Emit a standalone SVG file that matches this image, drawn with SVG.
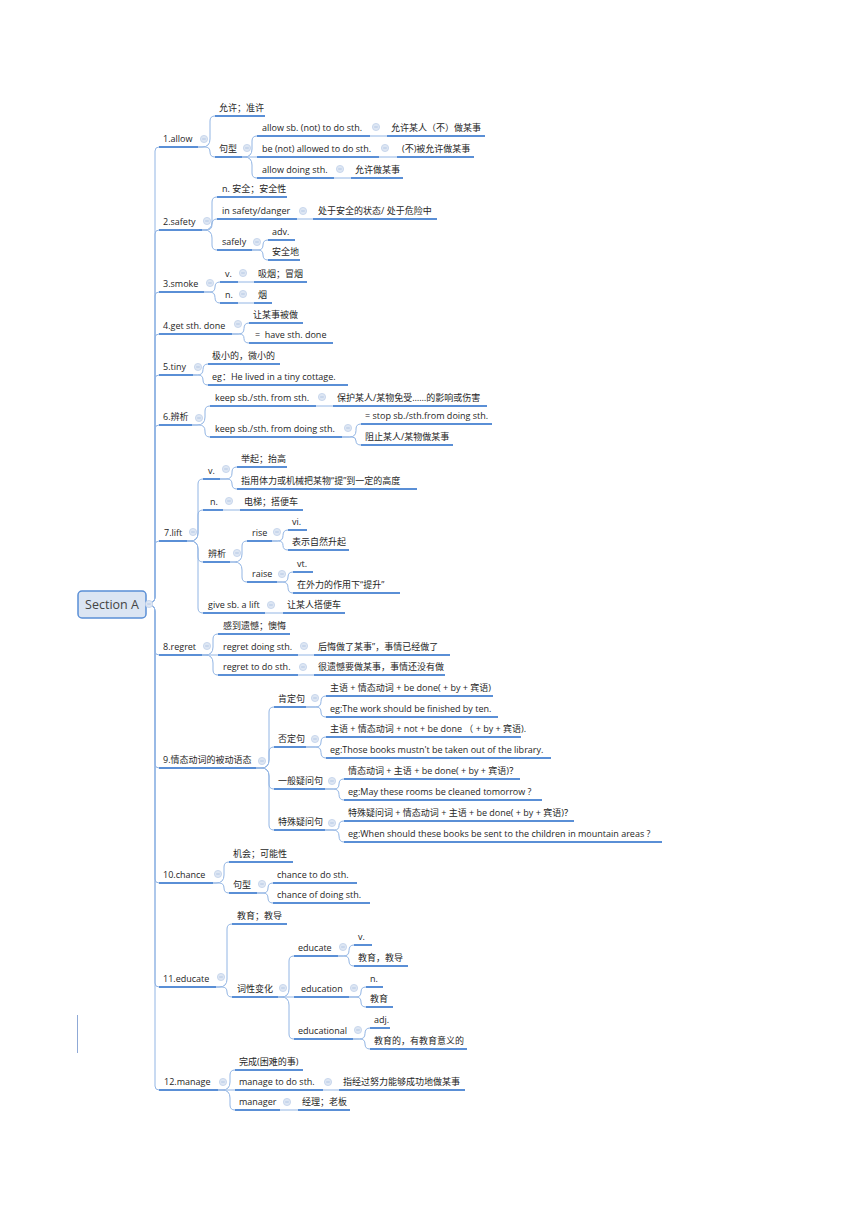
<svg xmlns="http://www.w3.org/2000/svg" xmlns:xlink="http://www.w3.org/1999/xlink" width="860" height="1216" viewBox="0 0 860 1216">
<style>
.t{font-family:"Open Sans","Noto Sans CJK SC",sans-serif;font-size:9px;fill:#262626}
.u{stroke:#5a8fd6;stroke-width:2;fill:none}
.c path{stroke:#92b5e4;stroke-width:1;fill:none}
</style>
<defs>
<g id="btn"><circle r="3.6" fill="#dde6f3" stroke="#c2d2ea" stroke-width="0.8"/><path d="M-1.8,0H1.8" stroke="#a9bfe0" stroke-width="0.8"/></g>
</defs>
<rect width="860" height="1216" fill="#ffffff"/>
<line x1="77.5" y1="1015" x2="77.5" y2="1053" stroke="#8fa9d6" stroke-width="1"/>

<g id="connectors" class="c">
<path d="M146,604 H147 Q155,604 155,596 V151 Q155,147 159,147"/>
<path d="M146,604 H147 Q155,604 155,596 V234 Q155,230 159,230"/>
<path d="M146,604 H147 Q155,604 155,596 V296 Q155,292 159,292"/>
<path d="M146,604 H147 Q155,604 155,596 V338 Q155,334 159,334"/>
<path d="M146,604 H147 Q155,604 155,596 V379 Q155,375 159,375"/>
<path d="M146,604 H147 Q155,604 155,596 V429 Q155,425 159,425"/>
<path d="M146,604 H147 Q155,604 155,596 V545 Q155,541 159,541"/>
<path d="M146,604 H147 Q155,604 155,612 V651 Q155,655 159,655"/>
<path d="M146,604 H147 Q155,604 155,612 V764 Q155,768 159,768"/>
<path d="M146,604 H147 Q155,604 155,612 V879 Q155,883 159,883"/>
<path d="M146,604 H147 Q155,604 155,612 V983 Q155,987 159,987"/>
<path d="M146,604 H147 Q155,604 155,612 V1086 Q155,1090 159,1090"/>

<path d="M198,147 H202 Q210,147 210,139 V121 Q210,116 215,116"/>
<path d="M198,147 H205 Q210,147 210,152 Q210,157 215,157"/>
<path d="M242,157 H244 Q252,157 252,149 V141 Q252,136 257,136"/>
<path d="M242,157 H257"/>
<path d="M242,157 H244 Q252,157 252,165 V173 Q252,178 257,178"/>
<path d="M370,136 H387"/>
<path d="M379,157 H397"/>
<path d="M334,178 H351"/>

<path d="M202,230 H204 Q212,230 212,222 V202 Q212,197 217,197"/>
<path d="M202,230 H206.5 Q212,230 212,224.5 Q212,219 217,219"/>
<path d="M202,230 H204 Q212,230 212,238 V245 Q212,250 217,250"/>
<path d="M297,219 H313"/>
<path d="M252,250 H258 Q263,250 263,245 Q263,240 268,240"/>
<path d="M252,250 H258 Q263,250 263,255 Q263,260 268,260"/>

<path d="M204,292 H210 Q215,292 215,287 Q215,282 220,282"/>
<path d="M204,292 H209.5 Q215,292 215,297.5 Q215,303 220,303"/>
<path d="M238,282 H254"/>
<path d="M238,303 H254"/>

<path d="M232,334 H238.5 Q244,334 244,328.5 Q244,323 249,323"/>
<path d="M232,334 H239.5 Q244,334 244,338.5 Q244,343 249,343"/>

<path d="M193,375 H197.5 Q203,375 203,369.5 Q203,364 208,364"/>
<path d="M193,375 H198 Q203,375 203,380 Q203,385 208,385"/>

<path d="M192,425 H197 Q205,425 205,417 V411 Q205,406 210,406"/>
<path d="M192,425 H199 Q205,425 205,431 V432 Q205,437 210,437"/>
<path d="M316,406 H333"/>
<path d="M342,437 H349.5 Q356,437 356,430.5 V429 Q356,424 361,424"/>
<path d="M342,437 H352 Q356,437 356,441 Q356,445 361,445"/>

<path d="M187,541 H190 Q198,541 198,533 V484 Q198,479 203,479"/>
<path d="M187,541 H190 Q198,541 198,533 V515 Q198,510 203,510"/>
<path d="M187,541 H190 Q198,541 198,549 V557 Q198,562 203,562"/>
<path d="M187,541 H190 Q198,541 198,549 V608 Q198,613 203,613"/>
<path d="M220,479 H226 Q232,479 232,473 V472 Q232,467 237,467"/>
<path d="M220,479 H227 Q232,479 232,484 Q232,489 237,489"/>
<path d="M223,510 H240"/>
<path d="M230,562 H234 Q242,562 242,554 V546 Q242,541 247,541"/>
<path d="M230,562 H234 Q242,562 242,570 V577 Q242,582 247,582"/>
<path d="M272,541 H277.5 Q283,541 283,535.5 Q283,530 288,530"/>
<path d="M272,541 H278.5 Q283,541 283,545.5 Q283,550 288,550"/>
<path d="M277,582 H283 Q288,582 288,577 Q288,572 293,572"/>
<path d="M277,582 H282.5 Q288,582 288,587.5 Q288,593 293,593"/>
<path d="M265,613 H283"/>

<path d="M202,655 H205 Q213,655 213,647 V639 Q213,634 218,634"/>
<path d="M202,655 H218"/>
<path d="M202,655 H205 Q213,655 213,663 V670 Q213,675 218,675"/>
<path d="M298,655 H314"/>
<path d="M298,675 H314"/>

<path d="M256,768 H261 Q269,768 269,760 V712 Q269,707 274,707"/>
<path d="M256,768 H261 Q269,768 269,760 V752 Q269,747 274,747"/>
<path d="M256,768 H261 Q269,768 269,776 V784 Q269,789 274,789"/>
<path d="M256,768 H261 Q269,768 269,776 V825 Q269,830 274,830"/>
<path d="M306,707 H315.5 Q321,707 321,701.5 Q321,696 326,696"/>
<path d="M306,707 H316 Q321,707 321,712 Q321,717 326,717"/>
<path d="M306,747 H316 Q321,747 321,742 Q321,737 326,737"/>
<path d="M306,747 H315.5 Q321,747 321,752.5 Q321,758 326,758"/>
<path d="M325,789 H334 Q339,789 339,784 Q339,779 344,779"/>
<path d="M325,789 H333.5 Q339,789 339,794.5 Q339,800 344,800"/>
<path d="M325,830 H334.5 Q339,830 339,825.5 Q339,821 344,821"/>
<path d="M325,830 H333 Q339,830 339,836 Q339,842 344,842"/>

<path d="M213,883 H216 Q224,883 224,875 V867 Q224,862 229,862"/>
<path d="M213,883 H219 Q224,883 224,888 Q224,893 229,893"/>
<path d="M257,893 H263 Q268,893 268,888 Q268,883 273,883"/>
<path d="M257,893 H263 Q268,893 268,898 Q268,903 273,903"/>

<path d="M216,987 H219 Q227,987 227,979 V929 Q227,924 232,924"/>
<path d="M216,987 H222 Q227,987 227,992 Q227,997 232,997"/>
<path d="M278,997 H281 Q289,997 289,989 V961 Q289,956 294,956"/>
<path d="M278,997 H294"/>
<path d="M278,997 H281 Q289,997 289,1005 V1034 Q289,1039 294,1039"/>
<path d="M338,956 H343.5 Q349,956 349,950.5 Q349,945 354,945"/>
<path d="M338,956 H344 Q349,956 349,961 Q349,966 354,966"/>
<path d="M349,997 H356 Q361,997 361,992 Q361,987 366,987"/>
<path d="M349,997 H356 Q361,997 361,1002 Q361,1007 366,1007"/>
<path d="M353,1039 H359.5 Q365,1039 365,1033.5 Q365,1028 370,1028"/>
<path d="M353,1039 H360 Q365,1039 365,1044 Q365,1049 370,1049"/>

<path d="M218,1090 H222 Q230,1090 230,1082 V1075 Q230,1070 235,1070"/>
<path d="M218,1090 H235"/>
<path d="M218,1090 H222 Q230,1090 230,1098 V1105 Q230,1110 235,1110"/>
<path d="M323,1090 H339"/>
<path d="M280,1110 H298"/>
</g>

<g id="root">
<rect x="78" y="591" width="68" height="27" rx="4" fill="#dbe5f3" stroke="#5a8fd6" stroke-width="1.5"/>
<text x="112" y="608.5" text-anchor="middle" style="font-family:'Open Sans','Noto Sans CJK SC',sans-serif;font-size:12.5px;fill:#444">Section A</text>
<use xlink:href="#btn" x="149" y="604"/>
</g>

<g id="n1"><path class="u" d="M159,147H198"/><text class="t" x="163" y="142">1.allow</text><use xlink:href="#btn" x="204" y="139"/></g>
<g id="n1a"><path class="u" d="M215,116H265"/><text class="t" x="219" y="111">允许；准许</text></g>
<g id="n1b"><path class="u" d="M215,157H242"/><text class="t" x="219" y="152">句型</text><use xlink:href="#btn" x="247" y="148"/></g>
<g id="n1b1"><path class="u" d="M257,136H370"/><text class="t" x="262" y="131">allow sb. (not) to do sth.</text><use xlink:href="#btn" x="376" y="127"/></g>
<g id="n1b1a"><path class="u" d="M387,136H485"/><text class="t" x="391" y="131">允许某人（不）做某事</text></g>
<g id="n1b2"><path class="u" d="M257,157H379"/><text class="t" x="262" y="152">be (not) allowed to do sth.</text><use xlink:href="#btn" x="385" y="148"/></g>
<g id="n1b2a"><path class="u" d="M397,157H474"/><text class="t" x="402" y="152">(不)被允许做某事</text></g>
<g id="n1b3"><path class="u" d="M257,178H334"/><text class="t" x="262" y="173">allow doing sth.</text><use xlink:href="#btn" x="340" y="169"/></g>
<g id="n1b3a"><path class="u" d="M351,178H403"/><text class="t" x="355" y="173">允许做某事</text></g>

<g id="n2"><path class="u" d="M159,230H202"/><text class="t" x="163" y="225">2.safety</text><use xlink:href="#btn" x="207" y="221"/></g>
<g id="n2a"><path class="u" d="M217,197H287"/><text class="t" x="222" y="192">n. 安全；安全性</text></g>
<g id="n2b"><path class="u" d="M217,219H297"/><text class="t" x="222" y="214">in safety/danger</text><use xlink:href="#btn" x="303" y="211"/></g>
<g id="n2b1"><path class="u" d="M313,219H437"/><text class="t" x="318" y="214">处于安全的状态/ 处于危险中</text></g>
<g id="n2c"><path class="u" d="M217,250H252"/><text class="t" x="222" y="245">safely</text><use xlink:href="#btn" x="257" y="242"/></g>
<g id="n2c1"><path class="u" d="M268,240H295"/><text class="t" x="272" y="235">adv.</text></g>
<g id="n2c2"><path class="u" d="M268,260H300"/><text class="t" x="272" y="255">安全地</text></g>

<g id="n3"><path class="u" d="M159,292H204"/><text class="t" x="163" y="287">3.smoke</text><use xlink:href="#btn" x="210" y="283"/></g>
<g id="n3a"><path class="u" d="M220,282H238"/><text class="t" x="225" y="277">v.</text><use xlink:href="#btn" x="243" y="273"/></g>
<g id="n3a1"><path class="u" d="M254,282H307"/><text class="t" x="258" y="277">吸烟；冒烟</text></g>
<g id="n3b"><path class="u" d="M220,303H238"/><text class="t" x="225" y="298">n.</text><use xlink:href="#btn" x="243" y="294"/></g>
<g id="n3b1"><path class="u" d="M254,303H272"/><text class="t" x="258" y="298">烟</text></g>

<g id="n4"><path class="u" d="M159,334H232"/><text class="t" x="163" y="329">4.get sth. done</text><use xlink:href="#btn" x="238" y="324"/></g>
<g id="n4a"><path class="u" d="M249,323H303"/><text class="t" x="253" y="318">让某事被做</text></g>
<g id="n4b"><path class="u" d="M249,343H333"/><text class="t" x="255" y="338" xml:space="preserve">=  have sth. done</text></g>

<g id="n5"><path class="u" d="M159,375H193"/><text class="t" x="163" y="370">5.tiny</text><use xlink:href="#btn" x="198" y="367"/></g>
<g id="n5a"><path class="u" d="M208,364H280"/><text class="t" x="212" y="359">极小的，微小的</text></g>
<g id="n5b"><path class="u" d="M208,385H348"/><text class="t" x="212" y="380">eg：He lived in a tiny cottage.</text></g>

<g id="n6"><path class="u" d="M159,425H192"/><text class="t" x="163" y="420">6.辨析</text><use xlink:href="#btn" x="199" y="418"/></g>
<g id="n6a"><path class="u" d="M210,406H316"/><text class="t" x="215" y="401">keep sb./sth. from sth.</text><use xlink:href="#btn" x="322" y="397"/></g>
<g id="n6a1"><path class="u" d="M333,406H487"/><text class="t" x="337" y="401">保护某人/某物免受……的影响或伤害</text></g>
<g id="n6b"><path class="u" d="M210,437H342"/><text class="t" x="215" y="432">keep sb./sth. from doing sth.</text><use xlink:href="#btn" x="348" y="428"/></g>
<g id="n6b1"><path class="u" d="M361,424H492"/><text class="t" x="365" y="419">= stop sb./sth.from doing sth.</text></g>
<g id="n6b2"><path class="u" d="M361,445H453"/><text class="t" x="365" y="440">阻止某人/某物做某事</text></g>

<g id="n7"><path class="u" d="M159,541H187"/><text class="t" x="164" y="536">7.lift</text><use xlink:href="#btn" x="193" y="532"/></g>
<g id="n7a"><path class="u" d="M203,479H220"/><text class="t" x="208" y="474">v.</text><use xlink:href="#btn" x="226" y="469"/></g>
<g id="n7a1"><path class="u" d="M237,467H287"/><text class="t" x="241" y="462">举起；抬高</text></g>
<g id="n7a2"><path class="u" d="M237,489H417"/><text class="t" x="241" y="484">指用体力或机械把某物“提”到一定的高度</text></g>
<g id="n7b"><path class="u" d="M203,510H223"/><text class="t" x="210" y="505">n.</text><use xlink:href="#btn" x="229" y="501"/></g>
<g id="n7b1"><path class="u" d="M240,510H303"/><text class="t" x="244" y="505">电梯；搭便车</text></g>
<g id="n7c"><path class="u" d="M203,562H230"/><text class="t" x="208" y="557">辨析</text><use xlink:href="#btn" x="237" y="553"/></g>
<g id="n7c1"><path class="u" d="M247,541H272"/><text class="t" x="252" y="536">rise</text><use xlink:href="#btn" x="277" y="532"/></g>
<g id="n7c1a"><path class="u" d="M288,530H307"/><text class="t" x="292" y="525">vi.</text></g>
<g id="n7c1b"><path class="u" d="M288,550H349"/><text class="t" x="292" y="545">表示自然升起</text></g>
<g id="n7c2"><path class="u" d="M247,582H277"/><text class="t" x="252" y="577">raise</text><use xlink:href="#btn" x="282" y="574"/></g>
<g id="n7c2a"><path class="u" d="M293,572H313"/><text class="t" x="297" y="567">vt.</text></g>
<g id="n7c2b"><path class="u" d="M293,593H400"/><text class="t" x="297" y="588">在外力的作用下“提升”</text></g>
<g id="n7d"><path class="u" d="M203,613H265"/><text class="t" x="208" y="608">give sb. a lift</text><use xlink:href="#btn" x="271" y="605"/></g>
<g id="n7d1"><path class="u" d="M283,613H345"/><text class="t" x="287" y="608">让某人搭便车</text></g>

<g id="n8"><path class="u" d="M159,655H202"/><text class="t" x="163" y="650">8.regret</text><use xlink:href="#btn" x="207" y="646"/></g>
<g id="n8a"><path class="u" d="M218,634H290"/><text class="t" x="223" y="629">感到遗憾；懊悔</text></g>
<g id="n8b"><path class="u" d="M218,655H298"/><text class="t" x="223" y="650">regret doing sth.</text><use xlink:href="#btn" x="304" y="646"/></g>
<g id="n8b1"><path class="u" d="M314,655H450"/><text class="t" x="318" y="650">后悔做了某事”，事情已经做了</text></g>
<g id="n8c"><path class="u" d="M218,675H298"/><text class="t" x="223" y="670">regret to do sth.</text><use xlink:href="#btn" x="303" y="667"/></g>
<g id="n8c1"><path class="u" d="M314,675H445"/><text class="t" x="318" y="670">很遗憾要做某事，事情还没有做</text></g>

<g id="n9"><path class="u" d="M159,768H256"/><text class="t" x="163" y="763">9.情态动词的被动语态</text><use xlink:href="#btn" x="262" y="761"/></g>
<g id="n9a"><path class="u" d="M274,707H306"/><text class="t" x="278" y="702">肯定句</text><use xlink:href="#btn" x="315" y="698"/></g>
<g id="n9a1"><path class="u" d="M326,696H493"/><text class="t" x="330" y="691">主语 + 情态动词 + be done( + by + 宾语)</text></g>
<g id="n9a2"><path class="u" d="M326,717H498"/><text class="t" x="330" y="712">eg:The work should be finished by ten.</text></g>
<g id="n9b"><path class="u" d="M274,747H306"/><text class="t" x="278" y="742">否定句</text><use xlink:href="#btn" x="315" y="739"/></g>
<g id="n9b1"><path class="u" d="M326,737H521"/><text class="t" x="330" y="732">主语 + 情态动词 + not + be done （ + by + 宾语).</text></g>
<g id="n9b2"><path class="u" d="M326,758H551"/><text class="t" x="330" y="753">eg:Those books mustn't be taken out of the library.</text></g>
<g id="n9c"><path class="u" d="M274,789H325"/><text class="t" x="278" y="784">一般疑问句</text><use xlink:href="#btn" x="332" y="781"/></g>
<g id="n9c1"><path class="u" d="M344,779H520"/><text class="t" x="348" y="774">情态动词 + 主语 + be done( + by + 宾语)？</text></g>
<g id="n9c2"><path class="u" d="M344,800H542"/><text class="t" x="348" y="795">eg:May these rooms be cleaned tomorrow ?</text></g>
<g id="n9d"><path class="u" d="M274,830H325"/><text class="t" x="278" y="825">特殊疑问句</text><use xlink:href="#btn" x="332" y="823"/></g>
<g id="n9d1"><path class="u" d="M344,821H574"/><text class="t" x="348" y="816">特殊疑问词 + 情态动词 + 主语 + be done( + by + 宾语)？</text></g>
<g id="n9d2"><path class="u" d="M344,842H662"/><text class="t" x="348" y="837">eg:When should these books be sent to the children in mountain areas ?</text></g>

<g id="n10"><path class="u" d="M159,883H213"/><text class="t" x="163" y="878">10.chance</text><use xlink:href="#btn" x="218" y="874"/></g>
<g id="n10a"><path class="u" d="M229,862H293"/><text class="t" x="233" y="857">机会；可能性</text></g>
<g id="n10b"><path class="u" d="M229,893H257"/><text class="t" x="233" y="888">句型</text><use xlink:href="#btn" x="262" y="884"/></g>
<g id="n10b1"><path class="u" d="M273,883H357"/><text class="t" x="277" y="878">chance to do sth.</text></g>
<g id="n10b2"><path class="u" d="M273,903H370"/><text class="t" x="277" y="898">chance of doing sth.</text></g>

<g id="n11"><path class="u" d="M159,987H216"/><text class="t" x="163" y="982">11.educate</text><use xlink:href="#btn" x="221" y="977"/></g>
<g id="n11a"><path class="u" d="M232,924H287"/><text class="t" x="237" y="919">教育；教导</text></g>
<g id="n11b"><path class="u" d="M232,997H278"/><text class="t" x="237" y="992">词性变化</text><use xlink:href="#btn" x="283" y="988"/></g>
<g id="n11b1"><path class="u" d="M294,956H338"/><text class="t" x="298" y="951">educate</text><use xlink:href="#btn" x="343" y="947"/></g>
<g id="n11b1a"><path class="u" d="M354,945H372"/><text class="t" x="358" y="940">v.</text></g>
<g id="n11b1b"><path class="u" d="M354,966H408"/><text class="t" x="358" y="961">教育，教导</text></g>
<g id="n11b2"><path class="u" d="M294,997H349"/><text class="t" x="301" y="992">education</text><use xlink:href="#btn" x="354" y="988"/></g>
<g id="n11b2a"><path class="u" d="M366,987H383"/><text class="t" x="370" y="982">n.</text></g>
<g id="n11b2b"><path class="u" d="M366,1007H393"/><text class="t" x="370" y="1002">教育</text></g>
<g id="n11b3"><path class="u" d="M294,1039H353"/><text class="t" x="298" y="1034">educational</text><use xlink:href="#btn" x="358" y="1030"/></g>
<g id="n11b3a"><path class="u" d="M370,1028H390"/><text class="t" x="374" y="1023">adj.</text></g>
<g id="n11b3b"><path class="u" d="M370,1049H467"/><text class="t" x="374" y="1044">教育的，有教育意义的</text></g>

<g id="n12"><path class="u" d="M159,1090H218"/><text class="t" x="164" y="1085">12.manage</text><use xlink:href="#btn" x="223" y="1082"/></g>
<g id="n12a"><path class="u" d="M235,1070H303"/><text class="t" x="239" y="1065">完成(困难的事)</text></g>
<g id="n12b"><path class="u" d="M235,1090H323"/><text class="t" x="239" y="1085">manage to do sth.</text><use xlink:href="#btn" x="328" y="1082"/></g>
<g id="n12b1"><path class="u" d="M339,1090H465"/><text class="t" x="343" y="1085">指经过努力能够成功地做某事</text></g>
<g id="n12c"><path class="u" d="M235,1110H280"/><text class="t" x="239" y="1105">manager</text><use xlink:href="#btn" x="287" y="1102"/></g>
<g id="n12c1"><path class="u" d="M298,1110H350"/><text class="t" x="302" y="1105">经理；老板</text></g>
</svg>
